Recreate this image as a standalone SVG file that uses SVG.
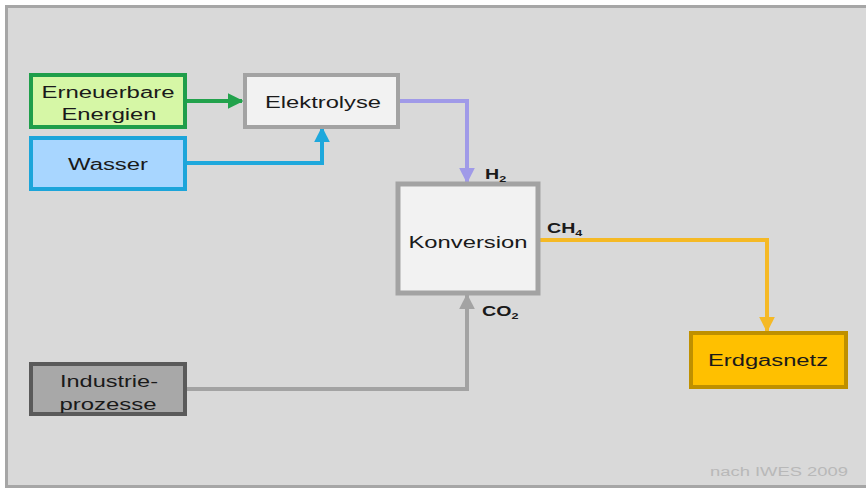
<svg xmlns="http://www.w3.org/2000/svg" width="866" height="490" viewBox="0 0 866 490">
<defs>
<style>
.t{font-family:"Liberation Sans",Arial,sans-serif;font-size:16px;fill:#1a1a1a;text-anchor:middle}
.lbl{font-family:"Liberation Sans",Arial,sans-serif;font-size:14px;font-weight:bold;fill:#1a1a1a}
.sub{font-size:9px}
.c{fill:none;stroke-width:4;stroke-linejoin:miter}
</style>
<marker id="aG" viewBox="0 0 10 10" refX="9" refY="5" markerWidth="4" markerHeight="4" orient="auto" markerUnits="strokeWidth"><path d="M0,0L10,5L0,10z" fill="#22a24c"/></marker>
<marker id="aB" viewBox="0 0 10 10" refX="9" refY="5" markerWidth="4" markerHeight="4" orient="auto" markerUnits="strokeWidth"><path d="M0,0L10,5L0,10z" fill="#1ea8dc"/></marker>
<marker id="aP" viewBox="0 0 10 10" refX="9" refY="5" markerWidth="4" markerHeight="4" orient="auto" markerUnits="strokeWidth"><path d="M0,0L10,5L0,10z" fill="#a09ae8"/></marker>
<marker id="aY" viewBox="0 0 10 10" refX="9" refY="5" markerWidth="4" markerHeight="4" orient="auto" markerUnits="strokeWidth"><path d="M0,0L10,5L0,10z" fill="#f5b925"/></marker>
<marker id="aS" viewBox="0 0 10 10" refX="9" refY="5" markerWidth="4" markerHeight="4" orient="auto" markerUnits="strokeWidth"><path d="M0,0L10,5L0,10z" fill="#a3a3a3"/></marker>
</defs>
<rect x="0" y="0" width="866" height="490" fill="#ffffff"/>
<rect x="6.5" y="6.5" width="866" height="480" fill="#d9d9d9" stroke="#a6a6a6" stroke-width="3"/>
<g id="connectors">
<path class="c" d="M186,101H242" stroke="#22a24c" marker-end="url(#aG)"/>
<path class="c" d="M186,163H322V128" stroke="#1ea8dc" marker-end="url(#aB)"/>
<path class="c" d="M399,101H467V182" stroke="#a09ae8" marker-end="url(#aP)"/>
<path class="c" d="M186,389H467V295" stroke="#a3a3a3" marker-end="url(#aS)"/>
<path class="c" d="M539,240H767V331" stroke="#f5b925" marker-end="url(#aY)"/>
</g>
<g id="erneuerbare">
<rect x="31" y="75" width="154" height="52" fill="#d6f7a6" stroke="#1f9e4a" stroke-width="4"/>
<text class="t" x="108" y="98" textLength="133" lengthAdjust="spacingAndGlyphs">Erneuerbare</text>
<text class="t" x="109" y="120" textLength="95" lengthAdjust="spacingAndGlyphs">Energien</text>
</g>
<g id="wasser">
<rect x="31" y="138" width="154" height="51" fill="#a8d6ff" stroke="#1ca5da" stroke-width="4"/>
<text class="t" x="108" y="170" fill="#1a2a50" textLength="80" lengthAdjust="spacingAndGlyphs">Wasser</text>
</g>
<g id="elektrolyse">
<rect x="245" y="75" width="153" height="52" fill="#f2f2f2" stroke="#a3a3a3" stroke-width="4"/>
<text class="t" x="323" y="108" textLength="116" lengthAdjust="spacingAndGlyphs">Elektrolyse</text>
</g>
<g id="konversion">
<rect x="398" y="184" width="140" height="109" fill="#f2f2f2" stroke="#a3a3a3" stroke-width="5"/>
<text class="t" x="468" y="248" textLength="119" lengthAdjust="spacingAndGlyphs">Konversion</text>
</g>
<g id="industrie">
<rect x="31" y="364" width="154" height="50" fill="#a8a8a8" stroke="#5a5a5a" stroke-width="4"/>
<text class="t" x="109" y="387" textLength="98" lengthAdjust="spacingAndGlyphs">Industrie-</text>
<text class="t" x="108" y="410" textLength="97" lengthAdjust="spacingAndGlyphs">prozesse</text>
</g>
<g id="erdgasnetz">
<rect x="691" y="333" width="155" height="54" fill="#ffc000" stroke="#bf9000" stroke-width="4"/>
<text class="t" x="768" y="366" fill="#3a2000" textLength="120" lengthAdjust="spacingAndGlyphs">Erdgasnetz</text>
</g>
<g id="labels">
<text class="lbl" transform="translate(485,179) scale(1.4,1)">H<tspan class="sub" dy="3">2</tspan></text>
<text class="lbl" transform="translate(547,233) scale(1.4,1)">CH<tspan class="sub" dy="3">4</tspan></text>
<text class="lbl" transform="translate(482,316) scale(1.4,1)">CO<tspan class="sub" dy="3">2</tspan></text>
<text x="848" y="476" font-family="'Liberation Sans',Arial,sans-serif" font-size="12" fill="#b8b8b8" text-anchor="end" textLength="138" lengthAdjust="spacingAndGlyphs">nach IWES 2009</text>
</g>
</svg>
